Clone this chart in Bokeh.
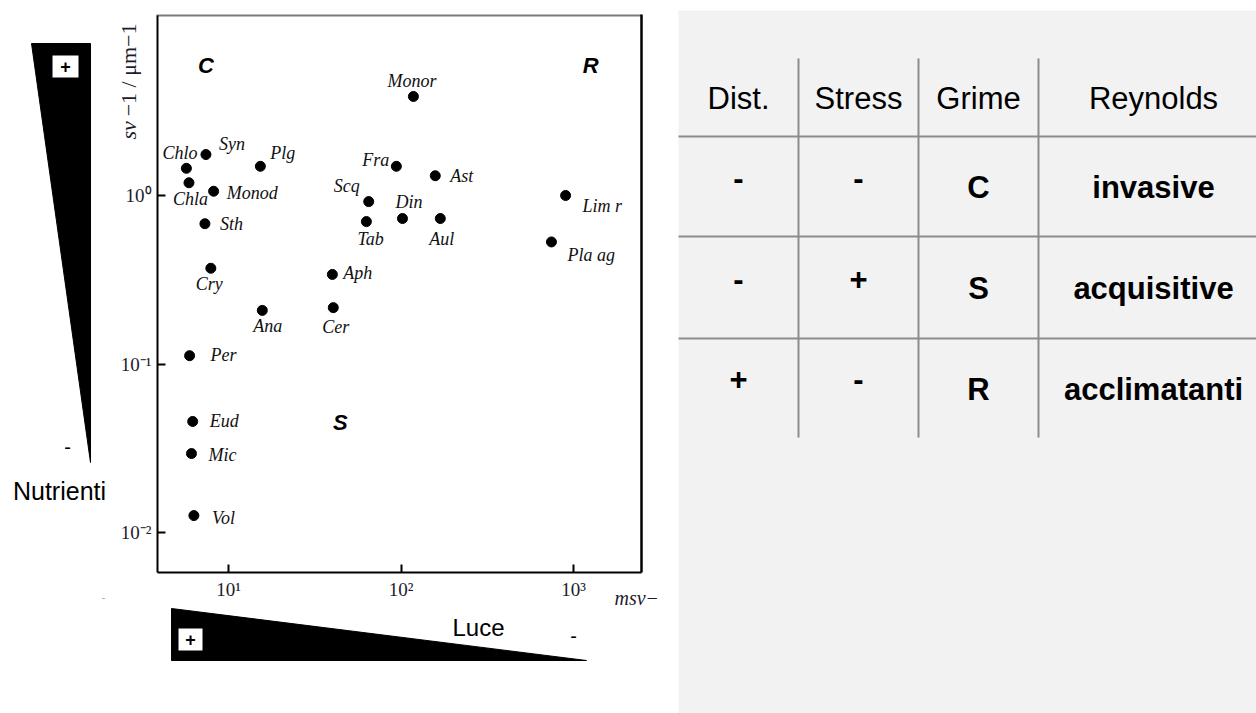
import math
from bokeh.plotting import figure
from bokeh.models import (Range1d, FixedTicker, CustomJSTickFormatter, Label,
                          ColumnDataSource, LinearScale)
from bokeh.embed import file_html
from bokeh.resources import INLINE
from bokeh.core.properties import value

# ---------------- data ----------------
species = ["Chlo", "Chla", "Syn", "Monod", "Plg", "Sth", "Cry", "Aph", "Cer", "Ana",
           "Scq", "Tab", "Fra", "Monor", "Ast", "Din", "Aul", "Lim r", "Pla ag",
           "Per", "Eud", "Mic", "Vol"]
msv = [5.7, 5.9, 7.4, 8.2, 15.3, 7.3, 7.9, 40.0, 40.5, 15.7,
       65.0, 63.0, 94.0, 118.0, 158.0, 102.0, 169.0, 900.0, 745.0,
       5.95, 6.2, 6.1, 6.3]
sv_um = [1.45, 1.19, 1.75, 1.06, 1.49, 0.68, 0.37, 0.34, 0.216, 0.208,
         0.92, 0.70, 1.49, 3.87, 1.31, 0.73, 0.73, 1.0, 0.53,
         0.112, 0.0456, 0.0294, 0.0126]

x_ticks = [10, 100, 1000]
y_ticks = [0.01, 0.1, 1]

quadrants = ["C", "R", "S"]
quad_x = [7.4, 1256.0, 44.5]
quad_y = [5.9, 5.9, 0.045]

table_header = ["Dist.", "Stress", "Grime", "Reynolds"]
dist = ["-", "-", "+"]
stress = ["-", "+", "-"]
grime = ["C", "S", "R"]
reynolds = ["invasive", "acquisitive", "acclimatanti"]

# ---------------- layout / style ----------------
W, H = 1256, 713
label_offsets = {
    "Chlo": (-24, -15), "Chla": (-16, 16), "Syn": (13, -11), "Monod": (13, 2),
    "Plg": (10, -13), "Sth": (15, 0), "Cry": (-15, 16), "Aph": (11, -1),
    "Cer": (-11, 19), "Ana": (-9, 16), "Scq": (-35, -16), "Tab": (-9, 17),
    "Fra": (-34, -6), "Monor": (-26, -15), "Ast": (15, 0), "Din": (-7, -17),
    "Aul": (-11, 20), "Lim r": (17, 10), "Pla ag": (16, 13), "Per": (21, -1),
    "Eud": (17, 0), "Mic": (17, 1), "Vol": (18, 2),
}
SANS = "Liberation Sans"
SERIF = "Liberation Serif"
BOX_L, BOX_R, BOX_T, BOX_B = 157, 641, 15, 572   # axes box, in page pixels


# page pixel -> log data (decade = 172.5 px in x, 168.5 px in y)
def px_to_x(px):
    return 10 ** (1 + (px - 228) / 172.5)


def py_to_y(py):
    return 10 ** ((195 - py) / 168.5)


p = figure(width=W, height=H, x_axis_type="log", y_axis_type="log",
           x_range=Range1d(px_to_x(0), px_to_x(W)),
           y_range=Range1d(py_to_y(H), py_to_y(0)),
           extra_x_ranges={"px": Range1d(0, W)}, extra_y_ranges={"px": Range1d(H, 0)},
           extra_x_scales={"px": LinearScale()}, extra_y_scales={"px": LinearScale()},
           output_backend="svg", toolbar_location=None, title=None, min_border=0,
           outline_line_color=None, background_fill_color="white", border_fill_color="white")
p.grid.visible = False

PX = dict(x_range_name="px", y_range_name="px")

# ---------------- table (right) ----------------
p.quad(left=678, right=W, top=10, bottom=H, fill_color="#f2f2f2", line_color=None, **PX)
col_edges = [678, 798, 918, 1038, 1268]
row_edges = [58, 136, 236, 338, 437]
gray = "#8c8c8c"
p.segment(x0=col_edges[1:4], y0=[row_edges[0]] * 3, x1=col_edges[1:4], y1=[row_edges[-1]] * 3,
          line_color=gray, line_width=2, **PX)
p.segment(x0=[678] * 3, y0=row_edges[1:4], x1=[W] * 3, y1=row_edges[1:4],
          line_color=gray, line_width=2, **PX)
col_c = [(col_edges[i] + col_edges[i + 1]) / 2 for i in range(4)]
row_c = [(row_edges[i] + row_edges[i + 1]) / 2 + 1 for i in range(4)]
tkw = dict(text_font=value(SANS), text_font_size="31px", text_align="center",
           text_baseline="middle", text_color="black", **PX)
p.text(col_c, [row_c[0]] * 4, text=table_header, **tkw)
body = row_c[1:]
p.text([col_c[0]] * 3, [r - 10 for r in body], text=dist, text_font_style="bold", **tkw)
p.text([col_c[1]] * 3, [r - 10 for r in body], text=stress, text_font_style="bold", **tkw)
p.text([col_c[2]] * 3, body, text=grime, text_font_style="bold", **tkw)
p.text([col_c[3]] * 3, body, text=reynolds, text_font_style="bold", **tkw)

# ---------------- Nutrienti wedge (left) ----------------
p.patch([31, 90, 90], [43, 43, 462], color="black", **PX)
p.quad(left=52, right=78, top=55, bottom=77, fill_color="white", line_color=None, **PX)
skw = dict(text_font=value(SANS), text_align="center", text_baseline="middle",
           text_color="black", **PX)
p.text([65], [66], text=["+"], text_font_style="bold", text_font_size="18px", **skw)
p.text([67], [446], text=["-"], text_font_size="20px", **skw)
p.text([59], [490], text=["Nutrienti"], text_font_size="25px", **skw)
p.text([103], [597], text=["-"], text_font_size="12px", text_alpha=0.35, **skw)

# ---------------- Luce wedge (bottom) ----------------
p.patch([171, 171, 586], [608, 660, 660], color="black", **PX)
p.quad(left=178, right=202, top=628, bottom=650, fill_color="white", line_color=None, **PX)
p.text([190], [639], text=["+"], text_font_style="bold", text_font_size="18px", **skw)
p.text([478], [627], text=["Luce"], text_font_size="24px", **skw)
p.text([573], [635], text=["-"], text_font_size="20px", **skw)

# ---------------- scatter box ----------------
p.segment(x0=[BOX_L - 1], y0=[BOX_T], x1=[BOX_R], y1=[BOX_T], line_color="#7a7a7a",
          line_width=2, **PX)
p.segment(x0=[BOX_R], y0=[BOX_T - 1], x1=[BOX_R], y1=[BOX_B], line_color="black",
          line_width=2.5, **PX)

fmt = CustomJSTickFormatter(code="""
const sup = {"-": "\u207b", "0": "\u2070", "1": "\u00b9", "2": "\u00b2", "3": "\u00b3"};
const e = Math.round(Math.log10(tick));
return "10" + String(e).split("").map(c => sup[c]).join("");
""")
xa, ya = p.xaxis[0], p.yaxis[0]
xa.ticker = FixedTicker(ticks=x_ticks)
ya.ticker = FixedTicker(ticks=y_ticks)
xa.fixed_location = py_to_y(BOX_B)
ya.fixed_location = px_to_x(BOX_L)
xa.bounds = (px_to_x(BOX_L), px_to_x(BOX_R))
ya.bounds = (py_to_y(BOX_B), py_to_y(BOX_T))
for ax in (xa, ya):
    ax.formatter = fmt
    ax.axis_line_width = 2
    ax.axis_line_color = "black"
    ax.major_tick_in = 8
    ax.major_tick_out = 0
    ax.major_tick_line_width = 2
    ax.minor_tick_in = 0
    ax.minor_tick_out = 0
    ax.major_label_text_font = SERIF
    ax.major_label_text_font_size = "19px"
    ax.major_label_text_color = "#1c1c2c"
    ax.major_label_standoff = 6

src = ColumnDataSource(dict(
    x=msv, y=sv_um, name=species,
    dx=[label_offsets[s][0] for s in species],
    dy=[label_offsets[s][1] for s in species],
))
p.scatter("x", "y", source=src, size=10, color="black")
p.text("x", "y", text="name", x_offset="dx", y_offset="dy", source=src,
       text_font=value(SERIF), text_font_style="italic", text_font_size="18px",
       text_align="left", text_baseline="middle", text_color="#111111")

qsrc = ColumnDataSource(dict(x=quad_x, y=quad_y, t=quadrants))
p.text("x", "y", text="t", source=qsrc, text_font=value(SANS), text_font_style="bold italic",
       text_font_size="22px", text_align="center", text_baseline="middle", text_color="black")

# axis titles
p.add_layout(Label(x=128, y=23, text="\u22121 / \u03bcm\u22121", angle=math.pi / 2,
                   text_align="right", text_baseline="middle", text_font=SERIF,
                   text_font_size="22px", text_color="#1c1c2c", **PX))
p.add_layout(Label(x=128, y=139, text="sv", angle=math.pi / 2,
                   text_align="left", text_baseline="middle", text_font=SERIF,
                   text_font_style="italic", text_font_size="22px", text_color="#1c1c2c", **PX))
p.add_layout(Label(x=614, y=597, text="msv\u2212", text_align="left", text_baseline="middle",
                   text_font=SERIF, text_font_style="italic", text_font_size="20px",
                   text_color="#1c1c2c", **PX))

with open("out.html", "w", encoding="utf-8") as fh:
    fh.write(file_html(p, INLINE))
